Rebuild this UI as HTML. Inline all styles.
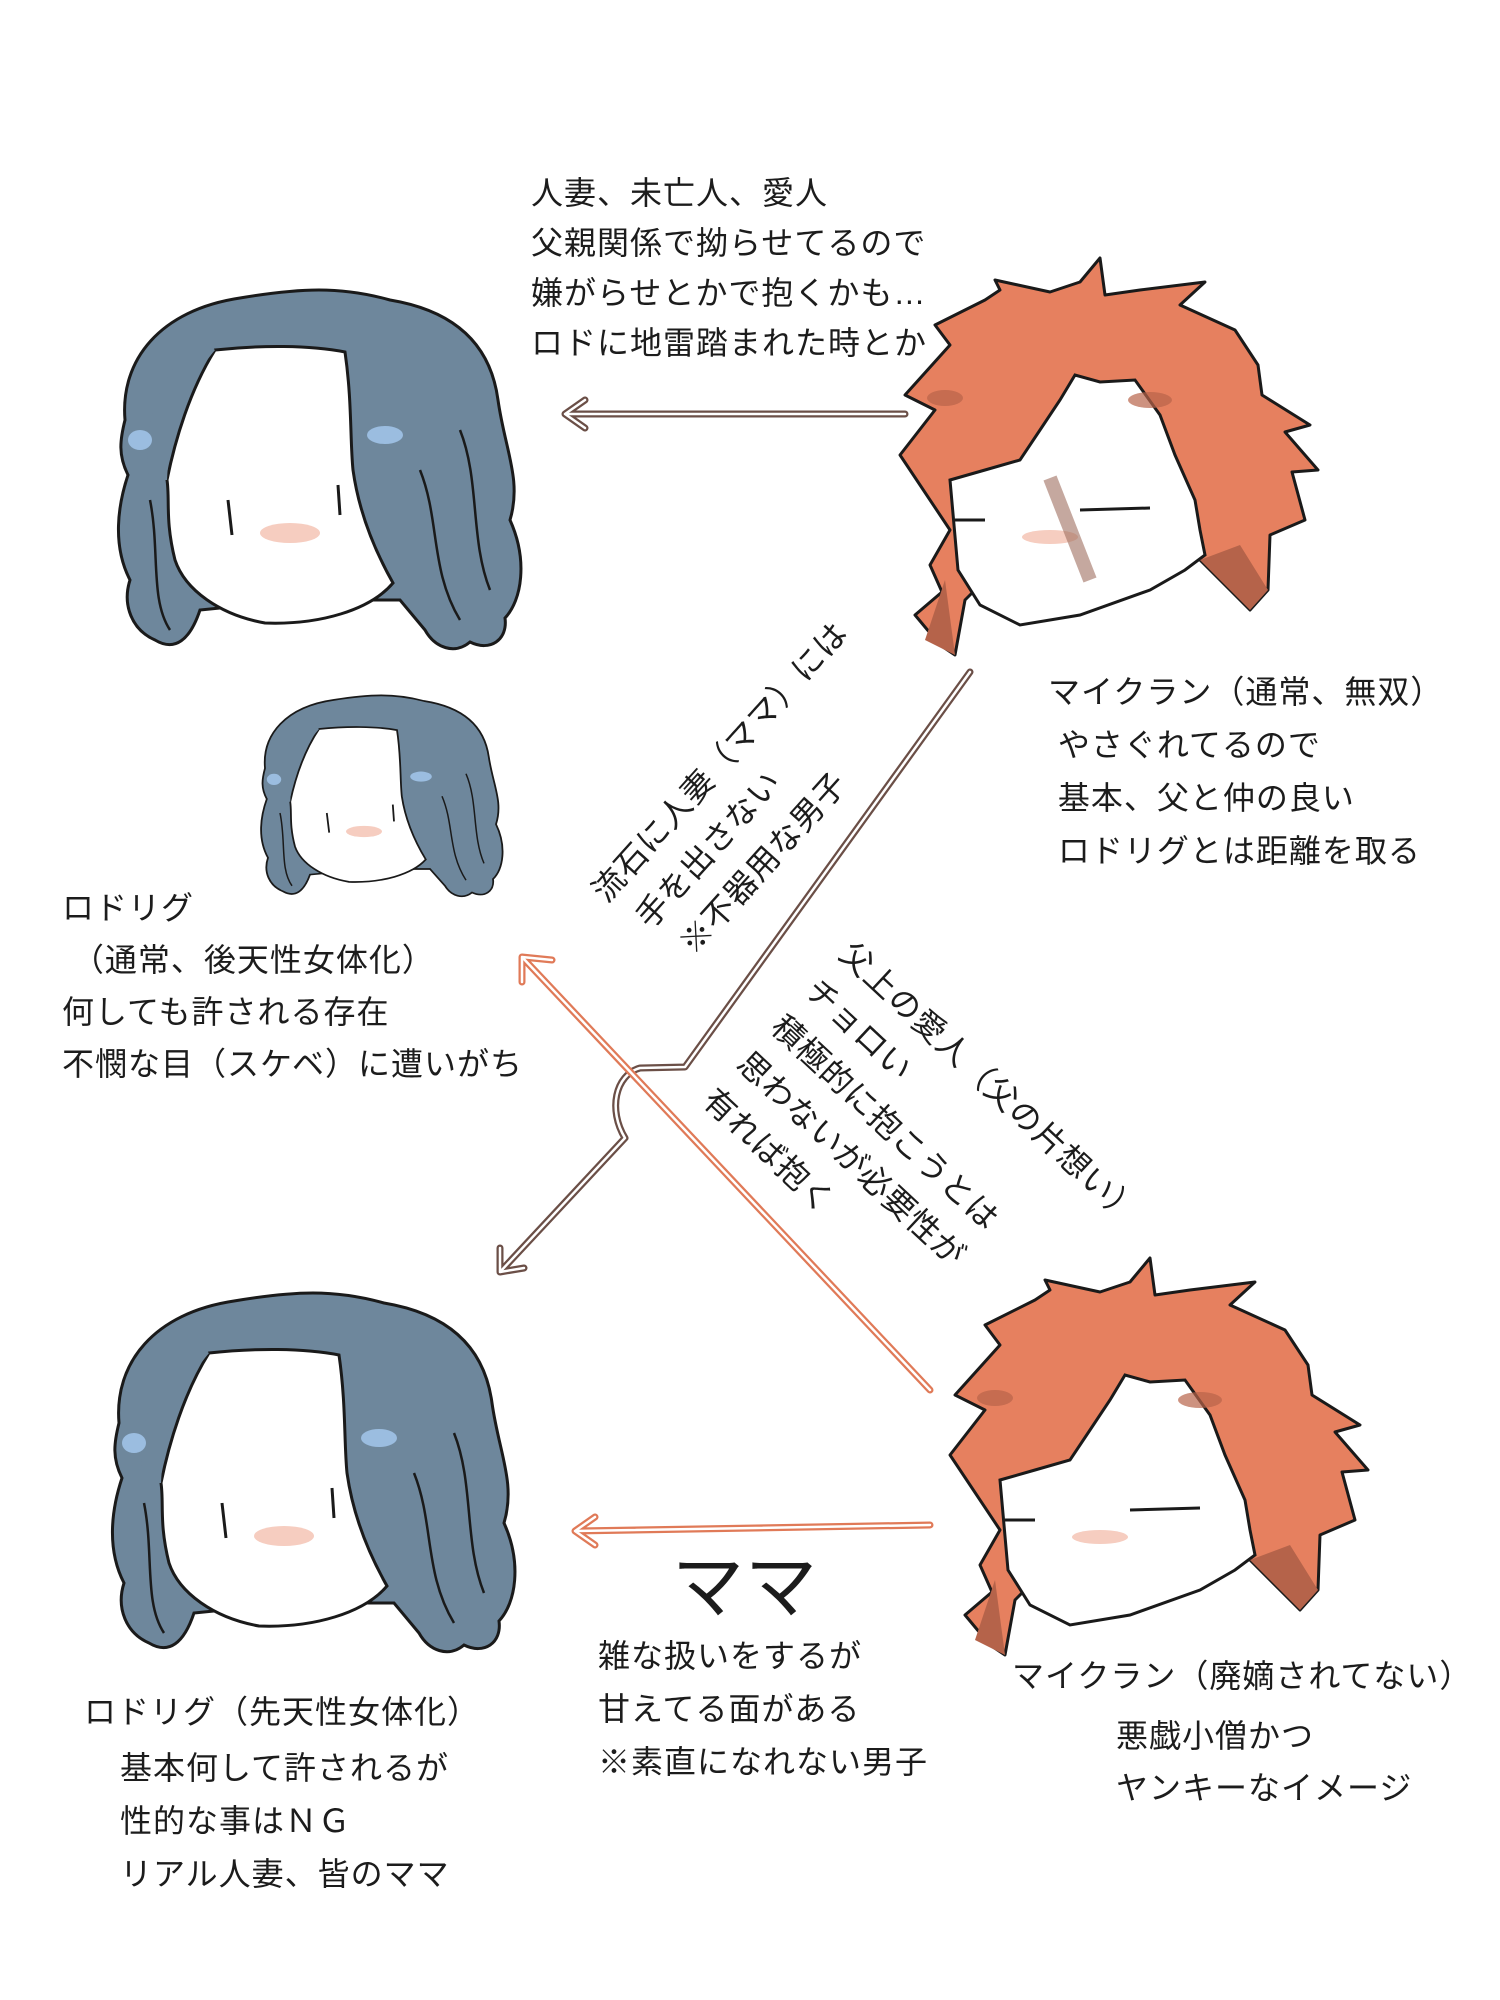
<!DOCTYPE html>
<html><head><meta charset="utf-8">
<style>
html,body{margin:0;padding:0;background:#fff;}
body{width:1500px;height:2000px;position:relative;overflow:hidden;font-family:"Liberation Sans","Noto Sans CJK JP",sans-serif;color:#1c1c1c;}
.t{position:absolute;font-size:32px;line-height:52px;white-space:nowrap;letter-spacing:1px;}
.r{position:absolute;font-size:32px;line-height:50px;white-space:nowrap;transform-origin:0 0;letter-spacing:1px;}
svg{position:absolute;left:0;top:0;}
</style></head><body>
<svg width="1500" height="2000" viewBox="0 0 1500 2000">
<defs>
<g id="blue">
 <path d="M125,420 C120,360 160,310 240,298 C300,288 340,286 390,300 C450,310 490,340 498,400 C505,450 522,480 510,520 C528,560 522,600 505,618 C508,640 490,652 470,642 C455,655 435,648 425,630 L400,600 L300,600 L200,610 C190,640 175,652 155,640 C132,630 122,605 130,580 C112,545 118,505 128,475 C118,455 120,440 125,420 Z" fill="#6e879c" stroke="#1a1a1a" stroke-width="3"/>
 <path d="M215,350 C260,345 310,345 345,352 C352,400 350,440 353,470 C360,520 380,560 393,583 C370,610 320,625 265,623 C220,615 185,590 175,560 C165,520 170,500 167,480 C175,440 190,390 215,350 Z" fill="#fff" stroke="#1a1a1a" stroke-width="3"/>
 <path d="M167,480 C170,420 190,380 215,350 L200,340 C160,370 140,430 150,480 Z" fill="#6e879c"/>
 <path d="M420,470 C440,520 430,570 460,620 M460,430 C480,480 470,540 490,590 M150,500 C160,550 150,600 170,630" stroke="#1a1a1a" stroke-width="2.5" fill="none"/>
 <ellipse cx="140" cy="440" rx="12" ry="10" fill="#9bbde0"/>
 <ellipse cx="385" cy="435" rx="18" ry="9" fill="#9bbde0"/>
 <ellipse cx="290" cy="533" rx="30" ry="10" fill="#f6cdc0"/>
 <path d="M228,500 L232,535 M338,485 L340,515" stroke="#1a1a1a" stroke-width="3"/>
</g>
<g id="orange">
 <path d="M900,455 L935,410 L905,395 L950,345 L935,325 L985,300 L1000,290 L995,280 L1050,292 L1080,282 L1100,258 L1105,295 L1140,290 L1205,282 L1180,305 L1235,330 L1258,365 L1262,395 L1310,425 L1285,432 L1318,470 L1292,472 L1305,520 L1270,535 L1268,590 L1250,610 L1200,560 L1170,545 L1000,565 L965,600 L955,655 L940,645 L915,615 L942,592 L930,565 L950,530 Z" fill="#e6805f" stroke="#1a1a1a" stroke-width="3" stroke-linejoin="round"/>
 <path d="M950,480 L985,470 L1020,460 L1040,430 L1060,400 L1075,375 L1100,382 L1135,380 L1160,415 L1175,455 L1195,500 L1200,530 L1205,555 L1185,570 L1150,590 L1080,615 L1020,625 L980,605 L958,570 Z" fill="#fff" stroke="#1a1a1a" stroke-width="3"/>
 <path d="M955,520 L985,520 M1080,510 L1150,508" stroke="#1a1a1a" stroke-width="3"/>
 <ellipse cx="1050" cy="537" rx="28" ry="7" fill="#f6cdc0"/>
 <ellipse cx="1150" cy="400" rx="22" ry="8" fill="#b8644a" opacity="0.7"/>
 <ellipse cx="945" cy="398" rx="18" ry="8" fill="#b8644a" opacity="0.7"/>
 <path d="M1200,560 L1250,610 L1268,590 L1240,545 Z M945,580 L955,655 L925,640 Z" fill="#b5634a"/>
</g>
</defs>
<use href="#blue"/>
<use href="#blue" transform="translate(-6,1003)"/>
<use href="#blue" transform="translate(190,533) scale(0.6,0.56)"/>
<use href="#orange"/>
<use href="#orange" transform="translate(50,1000)"/>
<path d="M1050,478 L1090,580" stroke="#a07060" stroke-width="14" opacity="0.6"/>
<g fill="none" stroke-linecap="round" stroke-linejoin="round">
 <g stroke="#6b4f47">
  <path d="M905,414 L565,414 M585,400 L565,414 L585,428" stroke-width="7"/>
  <path d="M970,672 L685,1067 L640,1068 C615,1075 608,1110 625,1138 L500,1272 M500,1248 L500,1272 L524,1268" stroke-width="7"/>
 </g>
 <g stroke="#fff">
  <path d="M905,414 L565,414 M585,400 L565,414 L585,428" stroke-width="2.5"/>
  <path d="M970,672 L685,1067 L640,1068 C615,1075 608,1110 625,1138 L500,1272 M500,1248 L500,1272 L524,1268" stroke-width="2.5"/>
 </g>
 <g stroke="#e07a58">
  <path d="M930,1390 L522,957 M522,982 L522,957 L552,960" stroke-width="7"/>
  <path d="M930,1525 L575,1531 M595,1517 L575,1531 L595,1545" stroke-width="7"/>
 </g>
 <g stroke="#fff">
  <path d="M930,1390 L522,957 M522,982 L522,957 L552,960" stroke-width="2.5"/>
  <path d="M930,1525 L575,1531 M595,1517 L575,1531 L595,1545" stroke-width="2.5"/>
 </g>
</g>
</svg>

<div class="t" style="left:531px;top:168px;line-height:50px;">人妻、未亡人、愛人<br>父親関係で拗らせてるので<br>嫌がらせとかで抱くかも…<br>ロドに地雷踏まれた時とか</div>

<div class="t" style="left:1048px;top:666px;line-height:53px;">マイクラン（通常、無双）<br>&nbsp;やさぐれてるので<br>&nbsp;基本、父と仲の良い<br>&nbsp;ロドリグとは距離を取る</div>

<div class="t" style="left:62px;top:882px;">ロドリグ<br>&nbsp;（通常、後天性女体化）<br>何しても許される存在<br>不憫な目（スケベ）に遭いがち</div>

<div class="r" style="left:580px;top:880px;transform:rotate(-48deg);">流石に人妻（ママ）には<br>&nbsp;手を出さない<br>&nbsp;&nbsp;※不器用な男子</div>

<div class="r" style="left:862px;top:930px;transform:rotate(43deg);">父上の愛人（父の片想い）<br>チョロい<br>積極的に抱こうとは<br>思わないが必要性が<br>有れば抱く</div>

<div class="t" style="left:672px;top:1548px;font-size:72px;line-height:80px;">ママ</div>

<div class="t" style="left:598px;top:1630px;line-height:53px;">雑な扱いをするが<br>甘えてる面がある<br>※素直になれない男子</div>

<div class="t" style="left:1012px;top:1650px;">マイクラン（廃嫡されてない）</div>
<div class="t" style="left:1116px;top:1710px;">悪戯小僧かつ<br>ヤンキーなイメージ</div>

<div class="t" style="left:84px;top:1685px;line-height:55px;">ロドリグ（先天性女体化）</div>
<div class="t" style="left:120px;top:1742px;line-height:53px;">基本何して許されるが<br>性的な事はＮＧ<br>リアル人妻、皆のママ</div>
</body></html>
